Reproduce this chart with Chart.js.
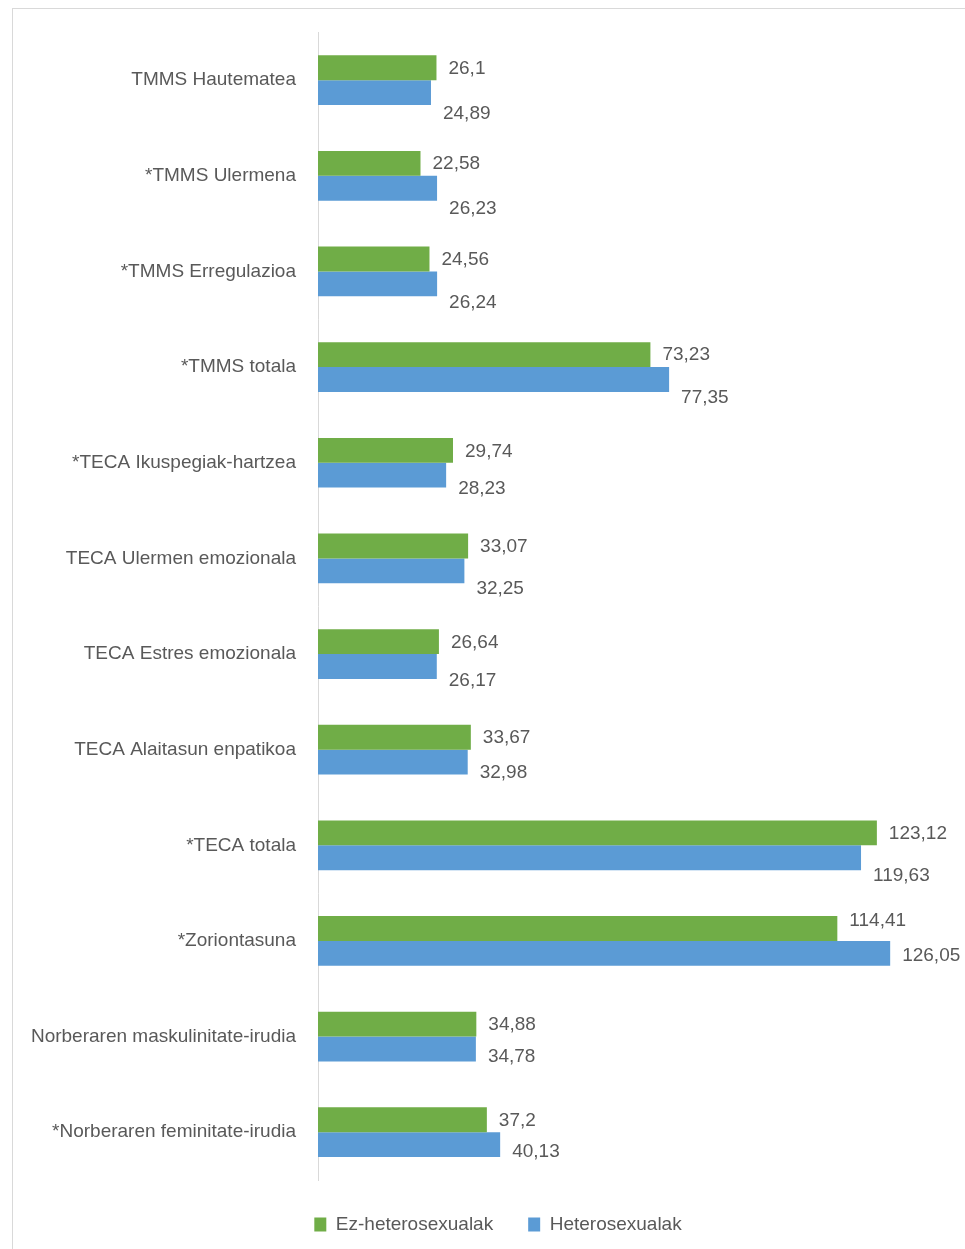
<!DOCTYPE html>
<html>
<head>
<meta charset="utf-8">
<script src="https://cdn.jsdelivr.net/npm/chart.js@4/dist/chart.umd.min.js"></script>
<style>
    body { margin: 0; background: #fff; overflow: hidden; }
    .frame { position: absolute; left: 12px; top: 8px; width: 980px; height: 1270px; border: 1px solid #d9d9d9; }
    canvas { display: block; position: relative; top: -2px; }
</style>
</head>
<body>
<div class="frame">
    <canvas id="chart" width="980" height="1237"></canvas>
</div>
<script>
    // Chart data
    const categories = [
        'TMMS Hautematea', '*TMMS Ulermena', '*TMMS Erregulazioa', '*TMMS totala',
        '*TECA Ikuspegiak-hartzea', 'TECA Ulermen emozionala', 'TECA Estres emozionala',
        'TECA Alaitasun enpatikoa', '*TECA totala', '*Zoriontasuna',
        'Norberaren maskulinitate-irudia', '*Norberaren feminitate-irudia'
    ];
    const ezHetero = [26.1, 22.58, 24.56, 73.23, 29.74, 33.07, 26.64, 33.67, 123.12, 114.41, 34.88, 37.2];
    const hetero = [24.89, 26.23, 26.24, 77.35, 28.23, 32.25, 26.17, 32.98, 119.63, 126.05, 34.78, 40.13];

    // Label vertical nudges (px), like Excel moved them
    const greenLabelDy = [1, 0, 1, 0, 1, 1, 1, 1, 1, -8, 1, 1];
    const blueLabelDy = [21, 20, 19, 18, 14, 18, 14, 11, 18, 2, 8, 7];

    const fontFamily = "'Liberation Sans', Arial, sans-serif";
    const textColor = '#595959';

    function fmt(v) {
        return String(v).replace('.', ',');
    }

    // Data labels next to the bar ends
    const valueLabels = {
        id: 'valueLabels',
        afterDatasetsDraw(chart) {
            const ctx = chart.ctx;
            ctx.save();
            ctx.font = '19px ' + fontFamily;
            ctx.fillStyle = textColor;
            ctx.textAlign = 'left';
            ctx.textBaseline = 'middle';
            chart.data.datasets.forEach((ds, di) => {
                const dys = di === 0 ? greenLabelDy : blueLabelDy;
                chart.getDatasetMeta(di).data.forEach((bar, i) => {
                    ctx.fillText(fmt(ds.data[i]), bar.x + 12, bar.y + dys[i]);
                });
            });
            ctx.restore();
        }
    };

    new Chart(document.getElementById('chart'), {
        type: 'bar',
        data: {
            labels: categories,
            datasets: [
                { label: 'Ez-heterosexualak', data: ezHetero, backgroundColor: '#70ad47' },
                { label: 'Heterosexualak', data: hetero, backgroundColor: '#5b9bd5' }
            ]
        },
        options: {
            indexAxis: 'y',
            responsive: false,
            animation: false,
            layout: { padding: { top: 21, right: 10, left: 0, bottom: 0 } },
            datasets: {
                bar: { categoryPercentage: 0.52, barPercentage: 1.0 }
            },
            scales: {
                x: { display: false, min: 0, max: 146.5 },
                y: {
                    grid: { display: false },
                    border: { display: true, color: '#d9d9d9', width: 1 },
                    ticks: { color: textColor, padding: 14, font: { family: fontFamily, size: 19 } },
                    afterFit(scale) { scale.width = 305; }
                }
            },
            plugins: {
                tooltip: { enabled: false },
                legend: {
                    position: 'bottom',
                    labels: {
                        boxWidth: 12, boxHeight: 14, padding: 35,
                        color: textColor, font: { family: fontFamily, size: 19 }
                    }
                }
            }
        },
        plugins: [valueLabels]
    });
</script>
</body>
</html>
